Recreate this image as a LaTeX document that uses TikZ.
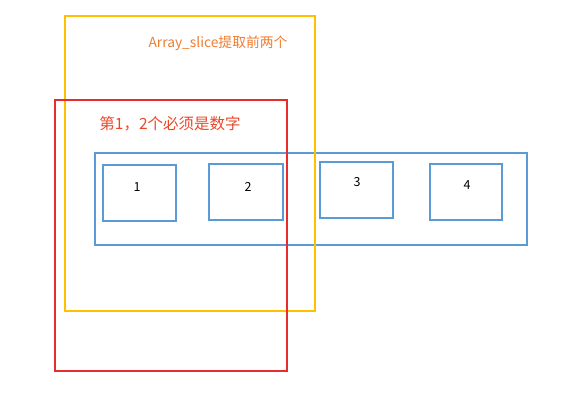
\documentclass[tikz,border=0pt]{standalone}
\usepackage{fontspec}
\setmainfont{Noto Sans CJK SC}
\definecolor{cblue}{RGB}{91,155,213}
\definecolor{cyellow}{RGB}{255,192,0}
\definecolor{cred}{RGB}{232,44,44}
\definecolor{corange}{RGB}{237,125,49}
\definecolor{credtxt}{RGB}{232,72,40}
\begin{document}
\begin{tikzpicture}[x=1pt,y=-1pt,
  frame/.style={draw,line width=1.6pt,inner sep=0pt,anchor=north west},
  cell/.style={draw=cblue,line width=1.6pt,inner sep=0pt,anchor=north west},
  lbl/.style={inner sep=0pt,font=\fontsize{12.5}{14}\selectfont}]
\useasboundingbox (0,0) rectangle (562,407);
\node[frame,draw=cblue,minimum width=432pt,minimum height=92pt] (arr) at (94,152) {};
\node[frame,draw=cyellow,minimum width=250pt,minimum height=295pt] (slice) at (64,15) {};
\node[frame,draw=cred,minimum width=232pt,minimum height=271pt] (num) at (54,99) {};
\node[cell,minimum width=73pt,minimum height=56pt] (c1) at (102,164) {};
\node[cell,minimum width=74pt,minimum height=56pt] (c2) at (208,163) {};
\node[cell,minimum width=73pt,minimum height=56pt] (c3) at (319,161) {};
\node[cell,minimum width=72pt,minimum height=56pt] (c4) at (429,163) {};
\node[lbl] (l1) at (137,187) {1};
\node[lbl] (l2) at (248,187) {2};
\node[lbl] (l3) at (357,182) {3};
\node[lbl] (l4) at (467,185) {4};
\node[inner sep=0pt,text=corange,font=\fontsize{13.8}{15}\selectfont] (t1) at (218,43) {Array\_slice提取前两个};
\node[inner sep=0pt,text=credtxt,font=\fontsize{15.5}{17}\selectfont] (t2) at (170,124) {第1，2个必须是数字};
\end{tikzpicture}
\end{document}
